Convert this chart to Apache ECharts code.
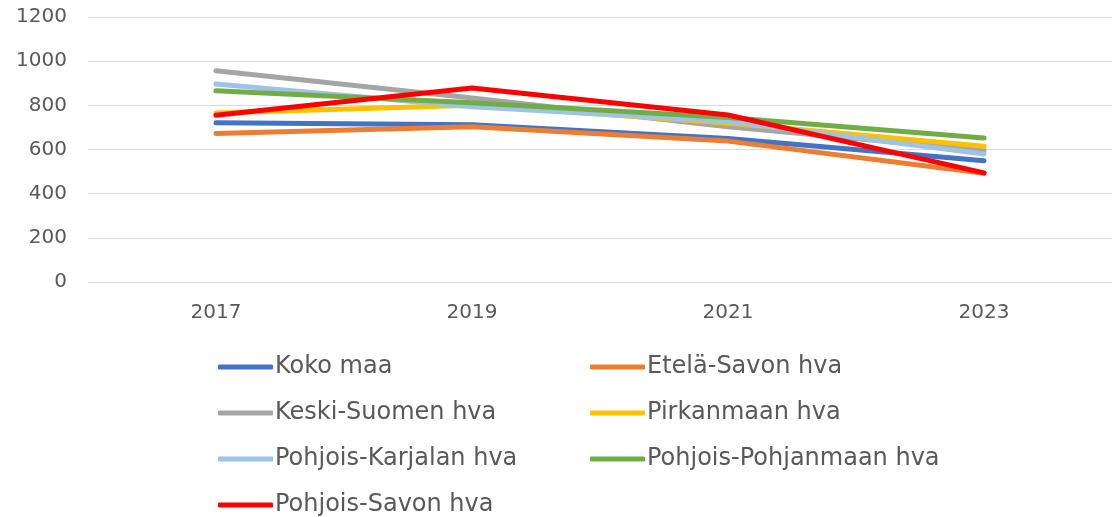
<!DOCTYPE html>
<html lang="fi">
<head>
    <meta charset="UTF-8">
    <title>Kehitys 2017-2023</title>
    <script src="https://cdn.jsdelivr.net/npm/echarts@6/dist/echarts.min.js"></script>
    <style>
        html, body { margin: 0; padding: 0; background: #fff; }
    </style>
</head>
<body>
<div id="main" style="width: 1114px;height:517px;"></div>
<script type="text/javascript">
    // vuodet ja sarjat
    var years = ['2017', '2019', '2021', '2023'];
    var kokoMaa = [721, 712, 650, 549];
    var etelaSavo = [672, 703, 638, 492];
    var keskiSuomi = [957, 833, 703, 595];
    var pirkanmaa = [765, 800, 720, 615];
    var pohjoisKarjala = [897, 794, 728, 580];
    var pohjoisPohjanmaa = [866, 812, 745, 652];
    var pohjoisSavo = [755, 878, 756, 494];
    var yTicks = [0, 200, 400, 600, 800, 1000, 1200];

    var names = ['Koko maa', 'Etelä-Savon hva', 'Keski-Suomen hva', 'Pirkanmaan hva',
        'Pohjois-Karjalan hva', 'Pohjois-Pohjanmaan hva', 'Pohjois-Savon hva'];
    var values = [kokoMaa, etelaSavo, keskiSuomi, pirkanmaa, pohjoisKarjala, pohjoisPohjanmaa, pohjoisSavo];
    var colors = ['#4472C4', '#ED7D31', '#A5A5A5', '#FFC000', '#9DC3E6', '#70AD47', '#FF0000'];

    var series = names.map(function (n, i) {
        return {
            name: n,
            type: 'line',
            data: values[i],
            symbol: 'none',
            z: i === 6 ? 10 : 2,
            lineStyle: { width: 5, color: colors[i], cap: 'round', join: 'round' },
            itemStyle: { color: colors[i] }
        };
    });

    // kaksi pystysaraketta, jotta selitteet asettuvat kuten alkuperäisessä
    function legendCol(left, data) {
        return {
            orient: 'vertical',
            left: left,
            top: 355,
            icon: 'roundRect',
            itemWidth: 55,
            itemHeight: 5,
            itemGap: 22,
            padding: 0,
            selectedMode: false,
            data: data,
            textStyle: { fontFamily: 'DejaVu Sans', fontSize: 24, color: '#595959', padding: [0, 0, 0, -3] }
        };
    }

    var myChart = echarts.init(document.getElementById('main'));
    myChart.setOption({
        animation: false,
        color: colors,
        grid: {
            left: 88,
            right: 2,
            top: 17,
            bottom: 235
        },
        legend: [
            legendCol(218, [names[0], names[2], names[4], names[6]]),
            legendCol(590, [names[1], names[3], names[5]])
        ],
        xAxis: {
            type: 'category',
            data: years,
            boundaryGap: true,
            axisLine: { lineStyle: { color: '#D9D9D9', width: 1 } },
            axisTick: { show: false },
            axisLabel: { fontFamily: 'DejaVu Sans', fontSize: 20, color: '#595959', margin: 21 }
        },
        yAxis: {
            type: 'value',
            min: yTicks[0],
            max: yTicks[yTicks.length - 1],
            interval: 200,
            axisLine: { show: false },
            axisTick: { show: false },
            splitLine: { lineStyle: { color: '#D9D9D9', width: 1 } },
            axisLabel: {
                fontFamily: 'DejaVu Sans', fontSize: 20, color: '#595959', margin: 21,
                formatter: function (v) { return String(v); }
            }
        },
        series: series
    });
</script>
</body>
</html>
